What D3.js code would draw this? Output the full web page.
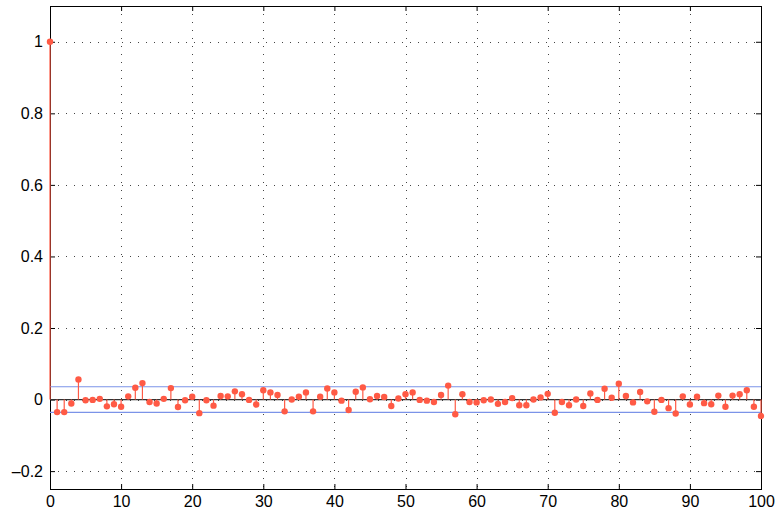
<!DOCTYPE html>
<html>
<head>
<meta charset="utf-8">
<script src="https://cdn.jsdelivr.net/npm/d3@7"></script>
<style>
  body { margin: 0; background: #fff; }
  text { font-family: "Liberation Sans", Arial, sans-serif; font-size: 16px; fill: #000; }
</style>
</head>
<body>
<div id="chart"></div>
<script>
// chart size and margins (plot box from 50,6 to 761,489)
const width = 779;
const height = 515;
const margin = { top: 6, right: 18, bottom: 26, left: 50 };

// autocorrelation values, lag 0..100
const lags = d3.range(0, 101);
const acf = [
  1.000, -0.035, -0.035, -0.011, 0.056, -0.002, -0.001, 0.002, -0.019, -0.013,
  -0.020, 0.009, 0.033, 0.046, -0.007, -0.011, 0.002, 0.032, -0.021, -0.002,
  0.008, -0.038, -0.002, -0.017, 0.010, 0.009, 0.023, 0.015, -0.001, -0.014,
  0.026, 0.020, 0.013, -0.033, 0.000, 0.008, 0.020, -0.033, 0.008, 0.031,
  0.020, -0.003, -0.029, 0.022, 0.034, 0.001, 0.010, 0.007, -0.018, 0.003,
  0.015, 0.020, -0.001, -0.003, -0.007, 0.013, 0.039, -0.041, 0.015, -0.007,
  -0.008, -0.002, 0.000, -0.012, -0.007, 0.004, -0.016, -0.016, 0.000, 0.006,
  0.016, -0.037, -0.007, -0.016, 0.000, -0.018, 0.017, -0.001, 0.030, 0.005,
  0.044, 0.010, -0.008, 0.021, -0.005, -0.034, -0.001, -0.024, -0.039, 0.009,
  -0.014, 0.008, -0.010, -0.013, 0.011, -0.020, 0.011, 0.015, 0.026, -0.020,
  -0.046
];
const bound = 0.0358;   // confidence bounds
const xTicks = [0, 10, 20, 30, 40, 50, 60, 70, 80, 90, 100];
const yTicks = [-0.2, 0, 0.2, 0.4, 0.6, 0.8, 1];

const w = width - margin.left - margin.right;
const h = height - margin.top - margin.bottom;

const svg = d3.select("#chart")
    .append("svg")
    .attr("width", width)
    .attr("height", height)
    .append("g")
    .attr("transform", "translate(" + margin.left + "," + margin.top + ")");

const x = d3.scaleLinear().domain([0, 100]).range([0, w]);
const y = d3.scaleLinear().domain([-0.25, 1.1]).range([h, 0]);

// dotted grid
svg.selectAll(".vgrid")
    .data(xTicks.slice(1, -1))
    .enter().append("line")
    .attr("x1", d => Math.round(x(d)) + 0.5).attr("x2", d => Math.round(x(d)) + 0.5)
    .attr("y1", 0).attr("y2", h)
    .attr("stroke", "#444").attr("stroke-width", 1)
    .attr("stroke-dasharray", "1,7");
svg.selectAll(".hgrid")
    .data(yTicks)
    .enter().append("line")
    .attr("x1", 0).attr("x2", w)
    .attr("y1", d => Math.round(y(d)) + 0.5).attr("y2", d => Math.round(y(d)) + 0.5)
    .attr("stroke", "#444").attr("stroke-width", 1)
    .attr("stroke-dasharray", "1,7");

// axes
const fmt = d => d < 0 ? "\u2013" + Math.abs(d) : String(d);
const xAxis = svg.append("g")
    .attr("transform", "translate(0," + h + ")")
    .call(d3.axisBottom(x).tickValues(xTicks).tickSize(-5).tickPadding(7).tickFormat(d => d));
const yAxis = svg.append("g")
    .call(d3.axisLeft(y).tickValues(yTicks).tickSize(-5).tickPadding(7).tickFormat(fmt));
[xAxis, yAxis].forEach(a => {
    a.select(".domain").remove();
    a.selectAll("line").attr("stroke", "#000");
    a.selectAll("text").style("font-family", "Liberation Sans, Arial, sans-serif").style("font-size", "16px");
});
// top/right ticks
svg.append("g").call(d3.axisTop(x).tickValues(xTicks).tickSize(-5).tickFormat(""))
    .call(g => g.select(".domain").remove());
svg.append("g").attr("transform", "translate(" + w + ",0)")
    .call(d3.axisRight(y).tickValues(yTicks).tickSize(-5).tickFormat(""))
    .call(g => g.select(".domain").remove());

// box
svg.append("rect")
    .attr("x", 0.5).attr("y", 0.5)
    .attr("width", w).attr("height", h)
    .attr("fill", "none").attr("stroke", "#000").attr("stroke-width", 1);

// confidence bounds
svg.selectAll(".bound")
    .data([bound, -bound])
    .enter().append("line")
    .attr("x1", 0).attr("x2", w)
    .attr("y1", d => y(d)).attr("y2", d => y(d))
    .attr("stroke", "#7b93e8").attr("stroke-width", 1.2);

// zero line
svg.append("line")
    .attr("x1", 0).attr("x2", w)
    .attr("y1", y(0)).attr("y2", y(0))
    .attr("stroke", "#333").attr("stroke-width", 1.2);

// stems
svg.selectAll(".stem")
    .data(lags)
    .enter().append("line")
    .attr("x1", d => x(d)).attr("x2", d => x(d))
    .attr("y1", y(0)).attr("y2", d => y(acf[d]))
    .attr("stroke", "#ff5a45").attr("stroke-width", 1.2);

// markers
svg.selectAll(".dot")
    .data(lags)
    .enter().append("circle")
    .attr("cx", d => x(d)).attr("cy", d => y(acf[d]))
    .attr("r", 3.2)
    .attr("fill", "#ff5a45");
</script>
</body>
</html>
